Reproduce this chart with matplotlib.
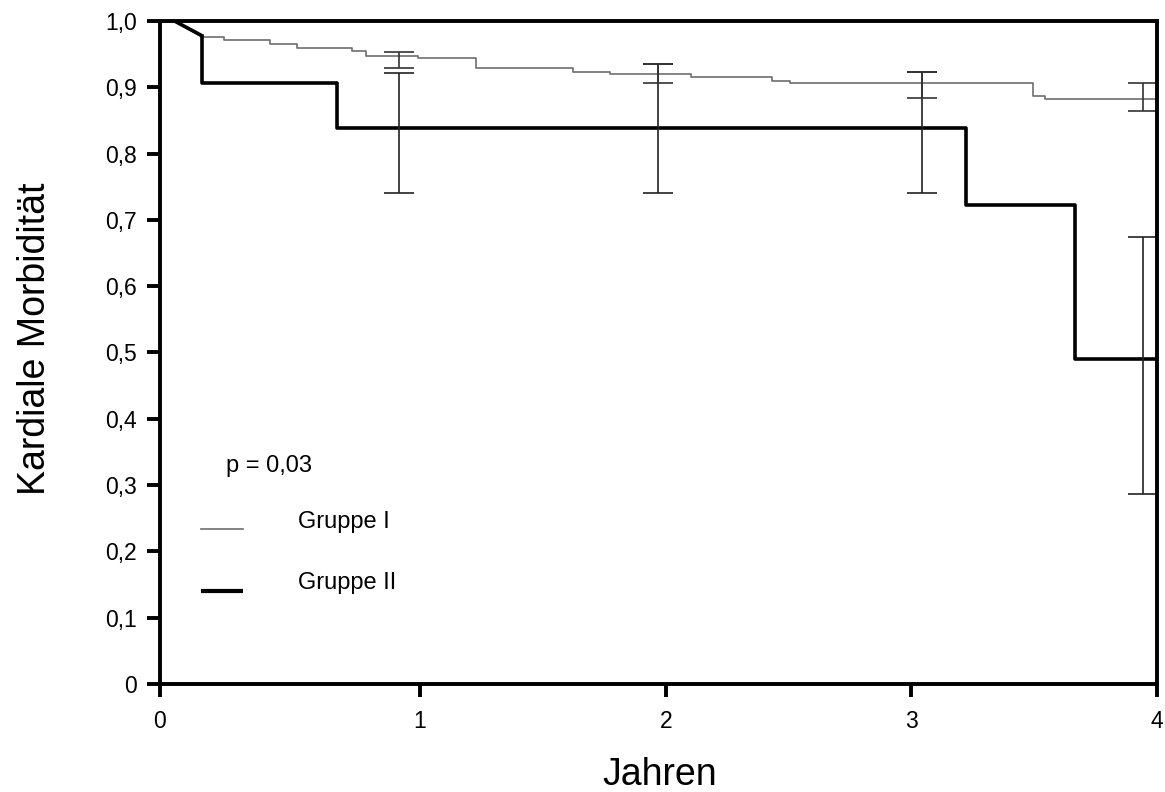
import numpy as np
import matplotlib
matplotlib.use("Agg")
import matplotlib.pyplot as plt

plt.rcParams['font.family'] = ['Liberation Sans', 'DejaVu Sans']

# Kaplan-Meier Stufen (Zeit in Jahren, Überlebensanteil)
t_g1 = [0.0, 0.111, 0.202, 0.389, 0.499, 0.722, 0.780, 0.992, 1.228,
        1.623, 1.774, 2.102, 2.432, 2.507, 3.496, 3.545, 4.0]
s_g1 = [1.0, 0.976, 0.971, 0.965, 0.959, 0.954, 0.947, 0.944, 0.929,
        0.923, 0.920, 0.916, 0.910, 0.906, 0.887, 0.883, 0.883]

t_g2 = [0.0, 0.111, 0.111, 0.663, 3.222, 3.666, 4.0]
s_g2 = [1.0, 0.978, 0.907, 0.838, 0.7225, 0.490, 0.490]

# Konfidenzintervalle
ci_x_g1 = [0.915, 1.969, 3.044, 3.945]
ci_lo_g1 = [0.9296, 0.906, 0.8843, 0.8647]
ci_hi_g1 = [0.9528, 0.935, 0.9226, 0.9069]

ci_x_g2 = [0.915, 1.969, 3.044, 3.945]
ci_lo_g2 = [0.741, 0.741, 0.741, 0.2866]
ci_hi_g2 = [0.9211, 0.935, 0.9226, 0.6747]

x_ticklabels = ['0', '1', '2', '3', '4']
y_ticks = np.arange(0, 1.01, 0.1)
y_ticklabels = ['0'] + ['%.1f' % v for v in y_ticks[1:]]
y_ticklabels = [s.replace('.', ',') for s in y_ticklabels]

fig = plt.figure(figsize=(11.65, 7.92), dpi=100)
ax = fig.add_axes([0.1373, 0.1364, 0.8558, 0.8371])

x0 = -0.059
ax.set_xlim(x0, 4.0)
ax.set_ylim(0, 1.0)

g1_col = '#6e6e6e'
# Gruppe I
ax.plot(t_g1[:2], s_g1[:2], color=g1_col, lw=1.2)
ax.step(t_g1[1:], s_g1[1:], where='post', color=g1_col, lw=1.2)
# Gruppe II
ax.plot(t_g2[:2], s_g2[:2], color='black', lw=2.6, solid_capstyle='butt')
ax.step(t_g2[1:], s_g2[1:], where='post', color='black', lw=2.6)

def draw_ci(x, lo, hi, col):
    lo = np.array(lo)
    hi = np.array(hi)
    ax.errorbar(x, (lo + hi) / 2, yerr=(hi - lo) / 2, fmt='none',
                ecolor=col, elinewidth=1.2, capsize=10.5, capthick=1.2)

draw_ci(ci_x_g2, ci_lo_g2, ci_hi_g2, '#222222')
draw_ci(ci_x_g1, ci_lo_g1, ci_hi_g1, '#333333')

for sp in ax.spines.values():
    sp.set_linewidth(2.8)

ax.set_xticks([x0, 1, 2, 3, 4])
ax.set_xticklabels(x_ticklabels)
ax.set_yticks(y_ticks)
ax.set_yticklabels(y_ticklabels)
ax.tick_params(axis='both', direction='out', length=9.5, width=2.8,
               labelsize=16.5)
ax.tick_params(axis='y', pad=7)
ax.tick_params(axis='x', pad=9)

ax.set_xlabel('Jahren', fontsize=27)
ax.xaxis.set_label_coords(0.5015, -0.137)
ax.xaxis.label.set_va('center')
ax.set_ylabel('Kardiale Morbidität', fontsize=27)
ax.yaxis.set_label_coords(-0.125, 0.52)
ax.yaxis.label.set_va('center')

# Legende
ax.text(0.0662, 0.329, 'p = 0,03', transform=ax.transAxes, fontsize=17,
        va='center', ha='left')
ax.plot([0.0408, 0.0828], [0.2342, 0.2342], transform=ax.transAxes,
        color=g1_col, lw=1.2)
ax.text(0.1387, 0.2448, 'Gruppe I', transform=ax.transAxes, fontsize=17,
        va='center', ha='left')
ax.plot([0.0408, 0.0828], [0.1407, 0.1407], transform=ax.transAxes,
        color='black', lw=3.0, solid_capstyle='butt')
ax.text(0.1387, 0.1528, 'Gruppe II', transform=ax.transAxes, fontsize=17,
        va='center', ha='left')

fig.savefig('out.png', dpi=100)
